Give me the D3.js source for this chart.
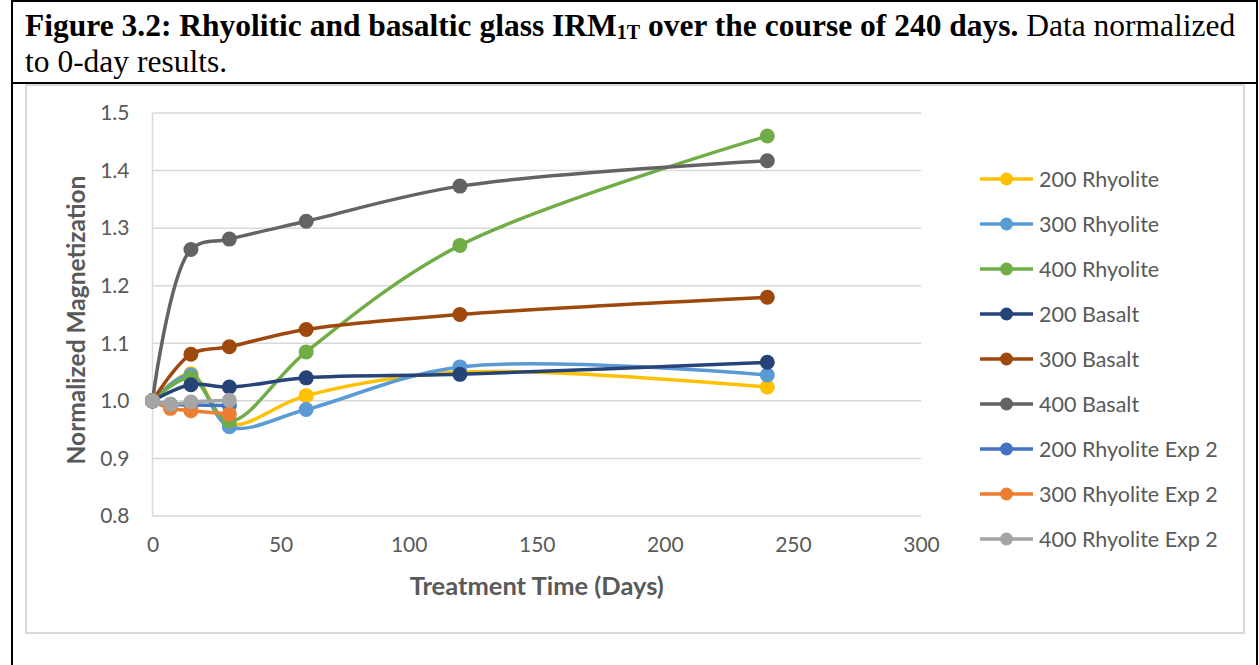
<!DOCTYPE html>
<html><head><meta charset="utf-8">
<script src="https://cdn.jsdelivr.net/npm/d3@7"></script>
<style>body{margin:0;background:#fff;} svg{display:block}</style>
</head><body><svg id="c" width="1259" height="665"></svg>
<script>
// ---------- data ----------
const days = [0, 15, 30, 60, 120, 240];
const daysExp2 = [0, 7, 15, 30];
const seriesNames = ["200 Rhyolite", "300 Rhyolite", "400 Rhyolite", "200 Basalt", "300 Basalt", "400 Basalt",
  "200 Rhyolite Exp 2", "300 Rhyolite Exp 2", "400 Rhyolite Exp 2"];
const rhyolite200 = [1.000, 1.047, 0.960, 1.009, 1.050, 1.024];
const rhyolite300 = [1.000, 1.045, 0.955, 0.985, 1.059, 1.045];
const rhyolite400 = [1.000, 1.040, 0.965, 1.085, 1.270, 1.460];
const basalt200 = [1.000, 1.028, 1.024, 1.040, 1.046, 1.067];
const basalt300 = [1.000, 1.081, 1.094, 1.124, 1.150, 1.180];
const basalt400 = [1.000, 1.263, 1.281, 1.312, 1.373, 1.417];
const rhyolite200Exp2 = [1.000, 0.994, 0.993, 0.992];
const rhyolite300Exp2 = [1.000, 0.987, 0.983, 0.977];
const rhyolite400Exp2 = [1.000, 0.994, 0.998, 1.001];
const colors = ["#FFC000", "#5B9BD5", "#70AD47", "#264478", "#9E480E", "#636363", "#4472C4", "#ED7D31", "#A5A5A5"];
const xTicks = [0, 50, 100, 150, 200, 250, 300];
const yTicks = [0.8, 0.9, 1.0, 1.1, 1.2, 1.3, 1.4, 1.5];

const seriesValues = [rhyolite200, rhyolite300, rhyolite400, basalt200, basalt300, basalt400,
  rhyolite200Exp2, rhyolite300Exp2, rhyolite400Exp2];
const series = seriesNames.map((name, i) => {
  const xs = i < 6 ? days : daysExp2;
  return { name, color: colors[i], points: xs.map((d, j) => ({ d, v: seriesValues[i][j] })) };
});

// ---------- layout ----------
const svg = d3.select("#c");
const FONT = "Lato, 'Open Sans', sans-serif";
const GREY_TXT = "#595959";
const SERIF = "'Liberation Serif', 'Times New Roman', serif";

// document frame
svg.append("line").attr("x1", 12).attr("x2", 12).attr("y1", 0).attr("y2", 665).attr("stroke", "#000").attr("stroke-width", 2);
svg.append("line").attr("x1", 1257).attr("x2", 1257).attr("y1", 0).attr("y2", 665).attr("stroke", "#000").attr("stroke-width", 2);
svg.append("line").attr("x1", 11).attr("x2", 1258).attr("y1", 1).attr("y2", 1).attr("stroke", "#000").attr("stroke-width", 2);
svg.append("line").attr("x1", 11).attr("x2", 1258).attr("y1", 83).attr("y2", 83).attr("stroke", "#000").attr("stroke-width", 2);

// caption
const cap = svg.append("text").attr("x", 25).attr("y", 36)
  .attr("font-family", SERIF).attr("font-size", 31.5).attr("fill", "#000");
cap.append("tspan").attr("font-weight", "bold").text("Figure 3.2: Rhyolitic and basaltic glass IRM");
cap.append("tspan").attr("font-weight", "bold").attr("font-size", 20).attr("dy", 3).text("1T");
cap.append("tspan").attr("font-weight", "bold").attr("dy", -3).text(" over the course of 240 days.");
cap.append("tspan").text(" Data normalized");
svg.append("text").attr("x", 25).attr("y", 72)
  .attr("font-family", SERIF).attr("font-size", 31.5).attr("fill", "#000")
  .text("to 0-day results.");

// chart area border
svg.append("rect").attr("x", 26).attr("y", 85).attr("width", 1218).attr("height", 548)
  .attr("fill", "#fff").attr("stroke", "#d9d9d9").attr("stroke-width", 2);

const x = d3.scaleLinear().domain([0, 300]).range([152.5, 921]);
const y = d3.scaleLinear().domain([0.8, 1.5]).range([516, 113]);

// gridlines
svg.append("g").selectAll("line").data(yTicks).join("line")
  .attr("x1", x(0)).attr("x2", x(300))
  .attr("y1", d => y(d)).attr("y2", d => y(d))
  .attr("stroke", "#d9d9d9").attr("stroke-width", 1.5);
svg.append("line").attr("x1", x(0)).attr("x2", x(0)).attr("y1", y(1.5)).attr("y2", y(0.8))
  .attr("stroke", "#d9d9d9").attr("stroke-width", 1.5);

// axes (labels only, Excel-style)
const yAxis = svg.append("g").attr("transform", `translate(${x(0) - 23},0)`)
  .call(d3.axisLeft(y).tickValues(yTicks).tickFormat(d3.format(".1f")).tickSize(0));
yAxis.select(".domain").remove();
yAxis.selectAll("text").attr("font-family", FONT).attr("font-size", 21).attr("fill", GREY_TXT).attr("x", 0);

const xAxis = svg.append("g").attr("transform", `translate(0,${y(0.8) + 21})`)
  .call(d3.axisBottom(x).tickValues(xTicks).tickFormat(d3.format("d")).tickSize(0));
xAxis.select(".domain").remove();
xAxis.selectAll("text").attr("font-family", FONT).attr("font-size", 21).attr("fill", GREY_TXT).attr("y", 0).attr("dy", "0.71em");

// axis titles
svg.append("text").attr("x", (x(0) + x(300)) / 2).attr("y", 595).attr("text-anchor", "middle")
  .attr("font-family", FONT).attr("font-weight", "bold").attr("font-size", 25.5).attr("fill", GREY_TXT)
  .text("Treatment Time (Days)");
svg.append("text").attr("transform", `translate(85,320) rotate(-90)`).attr("text-anchor", "middle")
  .attr("font-family", FONT).attr("font-weight", "bold").attr("font-size", 24.5).attr("fill", GREY_TXT)
  .text("Normalized Magnetization");

// series
const line = d3.line().x(p => x(p.d)).y(p => y(p.v)).curve(d3.curveCatmullRom.alpha(0.5));
const sg = svg.append("g").selectAll("g").data(series).join("g");
sg.append("path").attr("d", s => line(s.points)).attr("fill", "none")
  .attr("stroke", s => s.color).attr("stroke-width", 3.5).attr("stroke-linecap", "round");
sg.selectAll("circle").data(s => s.points.map(p => ({ ...p, color: s.color }))).join("circle")
  .attr("cx", p => x(p.d)).attr("cy", p => y(p.v)).attr("r", 7.5).attr("fill", p => p.color);

// legend
const lg = svg.append("g").selectAll("g").data(series).join("g")
  .attr("transform", (s, i) => `translate(0,${179 + i * 45})`);
lg.append("line").attr("x1", 980).attr("x2", 1033).attr("y1", 0).attr("y2", 0)
  .attr("stroke", s => s.color).attr("stroke-width", 3.5);
lg.append("circle").attr("cx", 1006.5).attr("cy", 0).attr("r", 6.5).attr("fill", s => s.color);
lg.append("text").attr("x", 1039).attr("y", 0).attr("dy", "0.35em")
  .attr("font-family", FONT).attr("font-size", 21.5).attr("fill", GREY_TXT).text(s => s.name);
</script></body></html>
